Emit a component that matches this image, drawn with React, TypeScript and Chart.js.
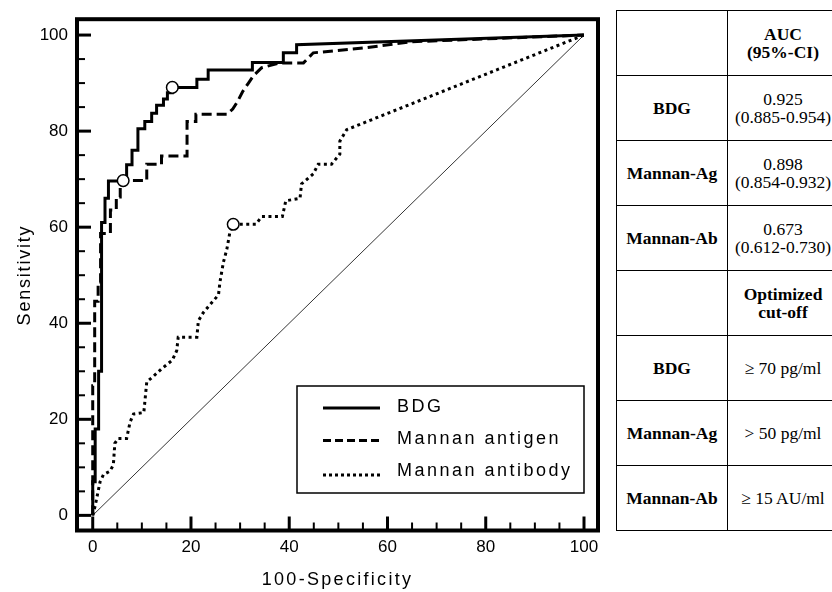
import React, { useEffect, useRef } from "react";
import { Chart, registerables } from "chart.js";

Chart.register(...registerables);

// ---- data ----
const bdgX = [0, 0, 0.5, 0.5, 1.2, 1.2, 1.8, 1.8, 2.5, 2.5, 3.2, 3.2, 6.9, 6.9, 8.0, 8.0, 9.2, 9.2, 10.6, 10.6, 12.0, 12.0, 13.0, 13.0, 14.4, 14.4, 15.2, 15.2, 16.2, 16.2, 21.2, 21.2, 23.5, 23.5, 32.5, 32.5, 38.8, 38.8, 41.5, 41.5, 100];
const bdgY = [0, 7, 7, 18, 18, 30, 30, 61, 61, 66, 66, 69.6, 69.6, 73, 73, 76, 76, 80.5, 80.5, 82, 82, 83.7, 83.7, 85.4, 85.4, 86.7, 86.7, 88, 88, 89.1, 89.1, 90.8, 90.8, 92.7, 92.7, 94.3, 94.3, 96.3, 96.3, 98, 100];

const agX = [0, 0, 0.4, 0.4, 1.1, 1.1, 1.6, 1.6, 3.6, 3.6, 4.8, 4.8, 5.6, 5.6, 6.2, 6.2, 11, 11, 14, 14, 19.2, 19.2, 21, 21, 27.3, 28.5, 29.5, 30.5, 31.7, 32.7, 34.4, 38.1, 42.9, 44.9, 55, 65, 100];
const agY = [0, 27, 27, 44.6, 44.6, 48.6, 48.6, 58.7, 58.7, 63.6, 63.6, 66.3, 66.3, 68.4, 68.4, 69.7, 69.7, 73.1, 73.1, 74.8, 74.8, 82, 82, 83.5, 83.5, 84.6, 86.2, 88.2, 90, 91.5, 93.2, 94.2, 94.2, 96.3, 97.3, 98.6, 100];

const abX = [0, 0.5, 1.1, 1.5, 2.2, 3.5, 4.2, 4.5, 5.2, 6.9, 7.6, 8.3, 10.4, 11, 12.3, 14, 16.2, 17.1, 17.4, 21.2, 21.5, 22.5, 23.9, 25.6, 25.9, 26.6, 27.3, 27.9, 28.6, 33.2, 34.4, 38.6, 39.3, 42.2, 42.5, 44.9, 45.9, 48.6, 50.3, 50.3, 51.7, 100];
const abY = [0, 2, 5, 7, 8.5, 9.2, 10.5, 15, 16, 16, 19.4, 21.1, 21.4, 27.8, 28.9, 30.5, 32.3, 34.3, 37.1, 37.1, 40.5, 42.2, 43.9, 45.9, 48.6, 52.7, 55.4, 58.8, 60.6, 60.6, 62.2, 62.2, 65.5, 66, 69, 71.1, 73.1, 73.1, 75.2, 77.9, 80.3, 100];

const refX = [0, 100];
const refY = [0, 100];

const cutoffX = [16.2, 6.2, 28.6];
const cutoffY = [89.1, 69.7, 60.6];

const seriesNames = ["BDG", "Mannan antigen", "Mannan antibody"];
const tickValues = [0, 20, 40, 60, 80, 100];
const minorTickValues = [0, 5, 10, 15, 20, 25, 30, 35, 40, 45, 50, 55, 60, 65, 70, 75, 80, 85, 90, 95, 100];
const xTitle = "100-Specificity";
const yTitle = "Sensitivity";

const rowLabels = ["BDG", "Mannan-Ag", "Mannan-Ab"];
const aucValues = ["0.925", "0.898", "0.673"];
const aucCIs = ["(0.885-0.954)", "(0.854-0.932)", "(0.612-0.730)"];
const cutoffLabels = ["\u2265 70 pg/ml", "> 50 pg/ml", "\u2265 15 AU/ml"];
const aucHeader = ["AUC", "(95%-CI)"];
const cutoffHeader = ["Optimized", "cut-off"];

const X_MIN = -3.2;
const X_MAX = 102.85;
const Y_MIN = -3.15;
const Y_MAX = 103.3;

const toPts = (xs: number[], ys: number[]) => xs.map((x, i) => ({ x, y: ys[i] }));

const SANS = "Arial, 'Liberation Sans', Helvetica, sans-serif";
const SERIF = "'Times New Roman', 'Liberation Serif', serif";

const decorPlugin = {
  id: "rocDecor",
  afterDraw(chart: any) {
    const { ctx, chartArea: a, scales } = chart;
    const xs = scales.x;
    const ys = scales.y;
    ctx.save();
    ctx.strokeStyle = "#000";
    ctx.fillStyle = "#000";
    ctx.lineCap = "butt";
    // inward ticks
    for (const v of minorTickValues) {
      const major = tickValues.includes(v);
      ctx.lineWidth = major ? 3 : 2;
      const len = major ? 14 : 8;
      const px = xs.getPixelForValue(v);
      ctx.beginPath();
      ctx.moveTo(px, a.bottom);
      ctx.lineTo(px, a.bottom - len);
      ctx.stroke();
      const py = ys.getPixelForValue(v);
      ctx.beginPath();
      ctx.moveTo(a.left, py);
      ctx.lineTo(a.left + len, py);
      ctx.stroke();
    }
    // frame
    ctx.lineWidth = 4;
    ctx.lineJoin = "miter";
    ctx.strokeRect(a.left, a.top, a.right - a.left, a.bottom - a.top);

    // legend
    const lx = 297, ly = 386, lw = 287, lh = 107;
    ctx.fillStyle = "#fff";
    ctx.fillRect(lx, ly, lw, lh);
    ctx.lineWidth = 1.5;
    ctx.strokeRect(lx, ly, lw, lh);
    const rowsY = [407, 439.5, 471];
    const sampleY = [408, 440.5, 475];
    const dashes = [[], [8, 4], [3, 3]];
    ctx.fillStyle = "#000";
    ctx.font = `18px ${SANS}`;
    ctx.textBaseline = "middle";
    ctx.textAlign = "left";
    (ctx as any).letterSpacing = "2.5px";
    seriesNames.forEach((name, i) => {
      ctx.save();
      ctx.lineWidth = 3;
      ctx.setLineDash(dashes[i]);
      ctx.beginPath();
      ctx.moveTo(323, sampleY[i]);
      ctx.lineTo(380, sampleY[i]);
      ctx.stroke();
      ctx.restore();
      ctx.fillText(name, 397, rowsY[i]);
    });

    // axis titles
    (ctx as any).letterSpacing = "2.3px";
    ctx.font = `18px ${SANS}`;
    ctx.textAlign = "center";
    ctx.textBaseline = "middle";
    ctx.fillText(xTitle, (a.left + a.right) / 2, 580);
    (ctx as any).letterSpacing = "1.8px";
    ctx.save();
    ctx.translate(25, 275);
    ctx.rotate(-Math.PI / 2);
    ctx.fillText(yTitle, 0, 0);
    ctx.restore();
    (ctx as any).letterSpacing = "0px";
    ctx.restore();
  },
};

export default function App() {
  const canvasRef = useRef<HTMLCanvasElement | null>(null);

  useEffect(() => {
    const canvas = canvasRef.current;
    if (!canvas) return;
    const lineBase = {
      showLine: true,
      borderColor: "#000",
      backgroundColor: "#000",
      pointRadius: 0,
      borderWidth: 3,
      borderCapStyle: "butt" as const,
      borderJoinStyle: "miter" as const,
      tension: 0,
      order: 1,
    };
    const chart = new Chart(canvas, {
      type: "scatter",
      data: {
        datasets: [
          {
            label: "cut-off",
            data: toPts(cutoffX, cutoffY),
            showLine: false,
            pointRadius: 5.8,
            pointBackgroundColor: "#fff",
            pointBorderColor: "#000",
            pointBorderWidth: 1.5,
            order: 0,
          },
          { ...lineBase, label: seriesNames[0], data: toPts(bdgX, bdgY) },
          { ...lineBase, label: seriesNames[1], data: toPts(agX, agY), borderDash: [10, 5] },
          { ...lineBase, label: seriesNames[2], data: toPts(abX, abY), borderDash: [3, 3.5] },
          {
            ...lineBase,
            label: "reference",
            data: toPts(refX, refY),
            borderWidth: 0.8,
            order: 2,
          },
        ],
      },
      options: {
        responsive: false,
        animation: false,
        events: [],
        layout: { padding: { top: 9, right: 12, left: 0, bottom: 0 } },
        plugins: { legend: { display: false }, tooltip: { enabled: false } },
        scales: {
          x: {
            type: "linear",
            min: X_MIN,
            max: X_MAX,
            grid: { display: false, drawTicks: false },
            border: { display: false },
            ticks: { color: "#000", font: { family: SANS, size: 17 }, padding: 7, maxRotation: 0 },
            afterBuildTicks: (s: any) => {
              s.ticks = tickValues.map((v) => ({ value: v }));
            },
            afterFit: (s: any) => {
              s.height = 61.5;
            },
          },
          y: {
            type: "linear",
            min: Y_MIN,
            max: Y_MAX,
            grid: { display: false, drawTicks: false },
            border: { display: false },
            ticks: { color: "#000", font: { family: SANS, size: 17 }, padding: 9 },
            afterBuildTicks: (s: any) => {
              s.ticks = tickValues.map((v) => ({ value: v }));
            },
            afterFit: (s: any) => {
              s.width = 77;
            },
          },
        },
      },
      plugins: [decorPlugin],
    } as any);
    return () => chart.destroy();
  }, []);

  const cell: React.CSSProperties = {
    border: "1.5px solid #000",
    padding: 0,
    textAlign: "center",
    verticalAlign: "middle",
    fontFamily: SERIF,
    fontSize: 17.5,
    lineHeight: "18.5px",
    color: "#000",
  };
  const bold: React.CSSProperties = { ...cell, fontWeight: "bold" };
  const rowH = 65;

  return (
    <div
      style={{
        position: "fixed",
        left: 0,
        top: 0,
        width: 832,
        height: 592,
        overflow: "hidden",
        background: "#fff",
      }}
    >
      <canvas
        ref={canvasRef}
        width={610}
        height={592}
        style={{ position: "absolute", left: 0, top: 0, display: "block" }}
      />
      <table
        style={{
          position: "absolute",
          left: 616,
          top: 10,
          width: 222,
          borderCollapse: "collapse",
          tableLayout: "fixed",
        }}
      >
        <colgroup>
          <col style={{ width: 111 }} />
          <col style={{ width: 111 }} />
        </colgroup>
        <tbody>
          <tr style={{ height: rowH }}>
            <td style={cell}></td>
            <td style={bold}>
              {aucHeader[0]}
              <br />
              {aucHeader[1]}
            </td>
          </tr>
          {rowLabels.map((r, i) => (
            <tr key={"auc" + r} style={{ height: rowH }}>
              <td style={bold}>{r}</td>
              <td style={cell}>
                {aucValues[i]}
                <br />
                {aucCIs[i]}
              </td>
            </tr>
          ))}
          <tr style={{ height: rowH }}>
            <td style={cell}></td>
            <td style={bold}>
              {cutoffHeader[0]}
              <br />
              {cutoffHeader[1]}
            </td>
          </tr>
          {rowLabels.map((r, i) => (
            <tr key={"cut" + r} style={{ height: rowH }}>
              <td style={bold}>{r}</td>
              <td style={cell}>{cutoffLabels[i]}</td>
            </tr>
          ))}
        </tbody>
      </table>
    </div>
  );
}
